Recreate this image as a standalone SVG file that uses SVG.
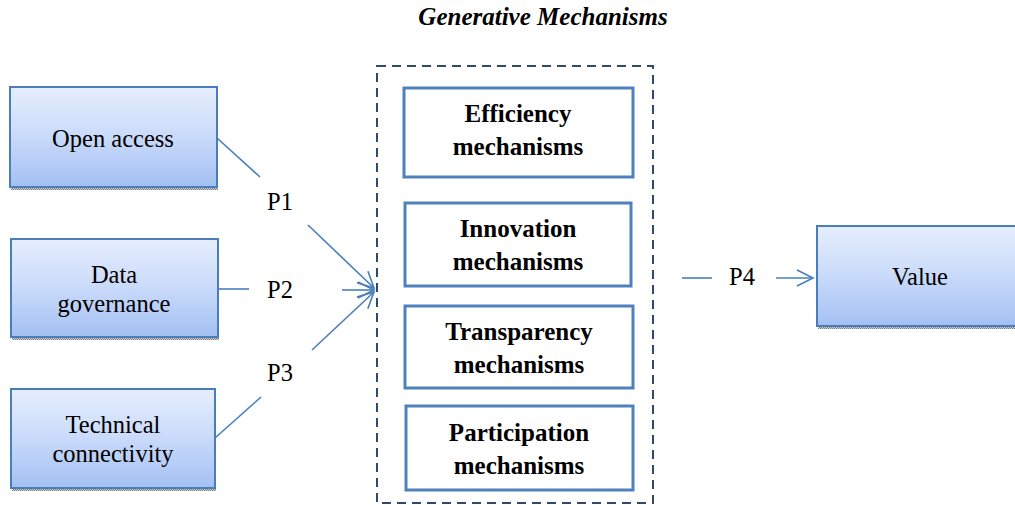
<svg xmlns="http://www.w3.org/2000/svg" width="1015" height="505" viewBox="0 0 1015 505">
<defs>
<linearGradient id="g" x1="0" y1="0" x2="0" y2="1">
<stop offset="0" stop-color="#e6eefc"/>
<stop offset="0.5" stop-color="#c9dafa"/>
<stop offset="1" stop-color="#a3c0f3"/>
</linearGradient>
<pattern id="hatch" width="2" height="2" patternUnits="userSpaceOnUse">
<rect width="2" height="2" fill="#d0d0d0"/>
<rect width="1" height="1" fill="#808080"/>
<rect x="1" y="1" width="1" height="1" fill="#808080"/>
</pattern>
<marker id="arr" viewBox="0 0 20 20" refX="18" refY="10" markerWidth="20" markerHeight="20" markerUnits="userSpaceOnUse" orient="auto">
<path d="M2 2 L18 10 L2 18" fill="none" stroke="#4a7ebb" stroke-width="1.6"/>
</marker>
<style>
.src{fill:url(#g);stroke:#4a7ebb;stroke-width:2}
.shadow{fill:url(#hatch)}
.mech{fill:#ffffff;stroke:#4f81bd;stroke-width:3}
.t{font-size:24.5px;fill:#000;text-anchor:middle}
.b{font-size:25px;font-weight:bold;fill:#000;text-anchor:middle}
.ln{stroke:#4a7ebb;stroke-width:1.6;fill:none}
</style>
</defs>
<rect width="1015" height="505" fill="#ffffff"/>
<g font-family="Liberation Serif">
<text x="543" y="25" font-size="25" font-weight="bold" font-style="italic" text-anchor="middle">Generative Mechanisms</text>

<g id="open-access">
<rect class="shadow" x="11" y="187" width="207" height="3"/>
<rect class="src" x="10" y="87" width="207" height="100"/>
<text class="t" x="113" y="147">Open access</text>
</g>
<g id="data-governance">
<rect class="shadow" x="12" y="337" width="207" height="3"/>
<rect class="src" x="11" y="239" width="207" height="98"/>
<text class="t" x="114" y="283">Data</text>
<text class="t" x="114" y="312">governance</text>
</g>
<g id="technical-connectivity">
<rect class="shadow" x="12" y="488" width="204" height="3"/>
<rect class="src" x="11" y="389" width="204" height="99"/>
<text class="t" x="113" y="433">Technical</text>
<text class="t" x="113" y="462">connectivity</text>
</g>
<g id="value">
<rect class="shadow" x="818" y="326" width="197" height="3"/>
<rect class="src" x="817" y="226" width="200" height="100"/>
<text class="t" x="920" y="285">Value</text>
</g>

<g id="generative-mechanisms">
<rect x="377" y="66" width="276" height="437" fill="none" stroke="#2f4a6b" stroke-width="2" stroke-dasharray="9,6"/>
</g>
<g id="efficiency">
<rect class="mech" x="404" y="88" width="229" height="89"/>
<text class="b" x="518" y="122">Efficiency</text>
<text class="b" x="518" y="155">mechanisms</text>
</g>
<g id="innovation">
<rect class="mech" x="405" y="203" width="226" height="83"/>
<text class="b" x="518" y="237">Innovation</text>
<text class="b" x="518" y="270">mechanisms</text>
</g>
<g id="transparency">
<rect class="mech" x="405" y="306" width="228" height="82"/>
<text class="b" x="519" y="340">Transparency</text>
<text class="b" x="519" y="373">mechanisms</text>
</g>
<g id="participation">
<rect class="mech" x="406" y="406" width="227" height="84"/>
<text class="b" x="519" y="441">Participation</text>
<text class="b" x="519" y="474">mechanisms</text>
</g>

<g id="connectors">
<line class="ln" x1="217" y1="138" x2="260" y2="177"/>
<line class="ln" x1="308" y1="225" x2="374" y2="288" marker-end="url(#arr)"/>
<line class="ln" x1="218" y1="289" x2="249" y2="289"/>
<line class="ln" x1="342" y1="290" x2="374" y2="290" marker-end="url(#arr)"/>
<line class="ln" x1="312" y1="350" x2="374" y2="292" marker-end="url(#arr)"/>
<line class="ln" x1="215" y1="438" x2="261" y2="397"/>
<line class="ln" x1="682" y1="278" x2="712" y2="278"/>
<line class="ln" x1="776" y1="278" x2="813" y2="278" marker-end="url(#arr)"/>
<text class="t" x="280" y="210">P1</text>
<text class="t" x="280" y="298">P2</text>
<text class="t" x="280" y="381">P3</text>
<text class="t" x="742" y="285">P4</text>
</g>
</g>
</svg>
